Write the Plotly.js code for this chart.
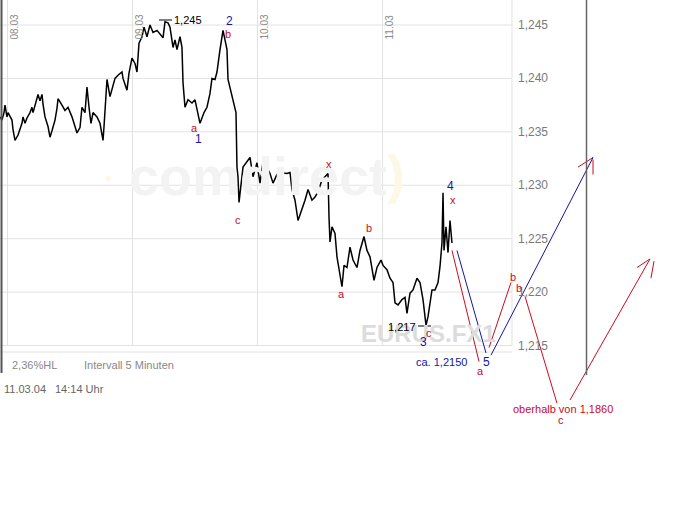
<!DOCTYPE html>
<html><head><meta charset="utf-8">
<script src="https://cdn.plot.ly/plotly-3.0.1.min.js"></script>
<style>html,body{margin:0;padding:0;background:#fff;}#chart{width:694px;height:519px;}</style>
</head><body><div id="chart"></div>
<script>
// EUR/USD, 5-minute interval, hours since 08.03.04 00:00
const hours = [-1.44,-1.06,-0.67,-0.48,-0.10,0.10,0.86,1.06,1.44,2.02,2.78,2.98,3.36,3.74,4.32,4.70,4.90,5.66,5.86,6.24,6.62,6.82,7.20,7.78,8.16,8.54,9.12,9.50,9.70,10.46,11.04,11.62,12.38,12.96,13.34,13.92,14.30,14.88,15.26,15.65,16.03,16.42,17.18,17.76,18.34,18.53,18.91,19.10,19.68,20.26,
20.64,21.22,21.98,22.18,22.94,23.33,23.90,24.48,24.86,25.25,25.82,26.21,26.78,27.36,27.94,28.70,29.28,29.86,30.24,30.82,
31.20,31.78,32.16,32.54,33.12,33.50,33.70,34.08,34.66,35.42,36.00,36.38,36.96,37.73,38.30,38.88,39.26,39.84,40.22,40.80,
41.38,41.76,42.14,42.34,43.10,43.30,43.87,44.06,44.26,44.45,45.22,46.56,47.14,47.90,48.48,49.06,49.82,50.40,50.98,51.74,
52.32,53.66,54.24,54.62,55.20,55.78,56.54,57.12,57.70,58.46,59.04,59.62,60.38,60.96,61.54,61.73,61.92,62.30,62.88,63.26,
63.65,64.22,64.61,65.18,65.76,66.34,67.10,67.68,68.45,69.02,69.60,70.37,70.94,71.71,72.10,72.86,73.44,74.02,74.40,74.98,
75.74,76.32,76.70,77.28,77.86,78.62,79.20,79.78,80.35,80.74,81.50,82.08,82.66,83.04,83.42,83.62,83.81,84.19,84.58,84.96,85.34];
const price = [1.2364,1.2361,1.2368,1.2375,1.2364,1.2368,1.2361,1.2352,1.2342,1.2347,1.2358,1.2364,1.2358,1.2363,1.2368,1.2373,1.2368,1.2383,1.2385,1.2379,1.2385,1.2376,1.2364,1.2355,1.2345,1.2351,1.2361,1.2372,1.2381,1.2375,1.2370,1.2373,1.2364,1.2355,1.2349,1.2354,1.2373,1.2368,1.2392,1.2373,1.2358,1.2368,1.2364,1.2358,1.2342,1.2355,1.2380,1.2399,1.2383,1.2392,
1.2400,1.2403,1.2406,1.2400,1.2389,1.2405,1.2419,1.2414,1.2406,1.2433,1.2439,1.2448,1.2439,1.2450,1.2443,1.2445,1.2441,1.2438,1.2453,1.2452,
1.2448,1.2429,1.2436,1.2427,1.2439,1.2429,1.2396,1.2373,1.2380,1.2377,1.2380,1.2370,1.2358,1.2368,1.2373,1.2386,1.2400,1.2399,1.2406,1.2427,
1.2445,1.2436,1.2427,1.2399,1.2384,1.2380,1.2368,1.2317,1.2308,1.2284,1.2317,1.2326,1.2308,1.2321,1.2302,1.2322,1.2317,1.2311,1.2302,1.2310,
1.2312,1.2311,1.2312,1.2296,1.2286,1.2267,1.2277,1.2286,1.2296,1.2286,1.2289,1.2294,1.2305,1.2308,1.2311,1.2270,1.2247,1.2261,1.2255,1.2233,
1.2221,1.2205,1.2225,1.2223,1.2242,1.2230,1.2223,1.2239,1.2252,1.2239,1.2233,1.2211,1.2223,1.2230,1.2225,1.2221,1.2213,1.2209,1.2190,1.2188,
1.2193,1.2195,1.2180,1.2199,1.2202,1.2213,1.2209,1.2193,1.2169,1.2177,1.2202,1.2202,1.2209,1.2224,1.2246,1.2293,1.2239,1.2261,1.2237,1.2267,1.2246];

const yTicks = [1.245,1.240,1.235,1.230,1.225,1.220,1.215];
const yTickText = ["1,245","1,240","1,235","1,230","1,225","1,220","1,215"];
const dayTicks = [0,24,48,72];
const dayLabels = ["08.03","09.03","10.03","11.03"];

// hand-drawn forecast strokes (hours, price), null separates strokes
const redH = [85.34,90.53,null,92.45,96.67,null,99.36,105.5,null,108.0,123.36,null,120.86,123.36,null,124.13,123.55,null,109.54,112.42,null,112.42,112.42];
const redV = [1.2239,1.2135,null,1.2148,1.2209,null,1.2196,1.2096,null,1.2099,1.2231,null,1.2223,1.2231,null,1.2229,1.2213,null,1.2317,1.2326,null,1.2324,1.2310];
const blueH = [86.30,91.87,null,92.83,112.42];
const blueV = [1.2239,1.2143,null,1.2141,1.2326];

const W = 694, H = 519;
const X = p => p / W, Y = p => 1 - p / H;
const RED = '#cc0a1e', BLUE = '#1414a0';
const FONT = 'Liberation Sans, Arial, sans-serif';

const xRange = [-1.44, 131.808];
const yRange = [1.198762, 1.24734];
const plotRightH = 96.86, plotBottomV = 1.21495;

const shapes = [];
yTicks.forEach(v => shapes.push({type:'line', xref:'x', yref:'y', x0:xRange[0], x1:plotRightH, y0:v, y1:v, line:{color:'#e2e2e2', width:1}, layer:'below'}));
dayTicks.forEach(h => shapes.push({type:'line', xref:'x', yref:'y', x0:h, x1:h, y0:plotBottomV, y1:yRange[1], line:{color:'#e2e2e2', width:1}, layer:'below'}));
shapes.push({type:'line', xref:'x', yref:'y', x0:plotRightH, x1:plotRightH, y0:plotBottomV, y1:yRange[1], line:{color:'#e2e2e2', width:1}, layer:'below'});
shapes.push({type:'line', xref:'paper', yref:'paper', x0:0, x1:X(512), y0:Y(352), y1:Y(352), line:{color:'#e2e2e2', width:1}, layer:'below'});
shapes.push({type:'line', xref:'paper', yref:'paper', x0:X(1.5), x1:X(1.5), y0:1, y1:Y(373), line:{color:'#555', width:2}});
shapes.push({type:'line', xref:'paper', yref:'paper', x0:X(586.5), x1:X(586.5), y0:1, y1:Y(375), line:{color:'#666', width:1.5}});
// price markers
shapes.push({type:'line', xref:'paper', yref:'paper', x0:X(159), x1:X(172), y0:Y(20), y1:Y(20), line:{color:'#000', width:1}});
shapes.push({type:'line', xref:'paper', yref:'paper', x0:X(418), x1:X(431), y0:Y(326), y1:Y(326), line:{color:'#000', width:1}});

const ann = [];
const txt = (x, y, text, color, size, extra) => ann.push(Object.assign({xref:'paper', yref:'paper', x:X(x), y:Y(y), text:text, showarrow:false, xanchor:'center', yanchor:'middle', font:{family:FONT, size:size, color:color}}, extra || {}));
// watermarks
txt(108, 178, '•', '#fdf8e4', 20);
txt(258, 176, 'comdirect', '#f3f3f3', 54, {font:{family:FONT, size:54, color:'#f3f3f3', weight:'bold'}});
txt(396, 174, ')', '#fdf8e6', 54, {font:{family:FONT, size:54, color:'#fdf8e6', weight:'bold'}});
txt(428, 333, 'EURUS.FX1', '#dcdcdc', 24, {font:{family:FONT, size:24, color:'#dcdcdc', weight:'bold'}});
yTicks.forEach((v, i) => ann.push({xref:'paper', yref:'y', x:X(516), y:v, text:yTickText[i], showarrow:false, xanchor:'left', yanchor:'middle', font:{family:FONT, size:12, color:'#7a7a7a'}}));
dayTicks.forEach((h, i) => ann.push({xref:'x', yref:'paper', x:h, xshift:6, y:Y(27), text:dayLabels[i], textangle:-90, showarrow:false, xanchor:'center', yanchor:'middle', font:{family:FONT, size:10, color:'#8a8a8a'}}));
txt(10, 365, '2,36%HL', '#888', 11, {xanchor:'left'});
txt(82, 365, 'Intervall 5 Minuten', '#888', 11, {xanchor:'left'});
txt(2, 389, '11.03.04', '#666', 11, {xanchor:'left'});
txt(53, 389, '14:14 Uhr', '#666', 11, {xanchor:'left'});
txt(172, 20, '1,245', '#000', 11, {xanchor:'left'});
txt(418, 327, '1,217', '#000', 11, {xanchor:'right'});
// wave labels
txt(229, 21, '2', BLUE, 12); txt(228, 34, 'b', RED, 11);
txt(194, 128, 'a', RED, 11); txt(198, 139, '1', BLUE, 12);
txt(238, 220, 'c', RED, 11); txt(329, 164, 'x', RED, 11);
txt(369, 228, 'b', RED, 11); txt(341, 294, 'a', RED, 11);
txt(429, 333, 'c', RED, 11); txt(423, 342, '3', BLUE, 12);
txt(450, 186, '4', BLUE, 12); txt(453, 200, 'x', RED, 11);
txt(442, 362, 'ca. 1,2150', BLUE, 11); txt(486, 362, '5', BLUE, 12);
txt(481, 371, 'a', RED, 11); txt(513, 277, 'b', RED, 11); txt(519, 288, 'b', RED, 11);
txt(563, 409, 'oberhalb von 1,1860', RED, 11); txt(561, 420, 'c', RED, 11);

const traces = [
  {x:hours, y:price, type:'scatter', mode:'lines', line:{color:'#000', width:1.5}, hoverinfo:'skip'},
  {x:redH, y:redV, type:'scatter', mode:'lines', line:{color:RED, width:1}, connectgaps:false, hoverinfo:'skip'},
  {x:blueH, y:blueV, type:'scatter', mode:'lines', line:{color:BLUE, width:1}, connectgaps:false, hoverinfo:'skip'}
];

const layout = {
  width:W, height:H, margin:{l:0, r:0, t:0, b:0, pad:0},
  paper_bgcolor:'#fff', plot_bgcolor:'#fff', showlegend:false,
  xaxis:{range:xRange, visible:false, fixedrange:true},
  yaxis:{range:yRange, visible:false, fixedrange:true},
  shapes:shapes, annotations:ann
};
Plotly.newPlot('chart', traces, layout, {displayModeBar:false, staticPlot:true});
</script></body></html>
